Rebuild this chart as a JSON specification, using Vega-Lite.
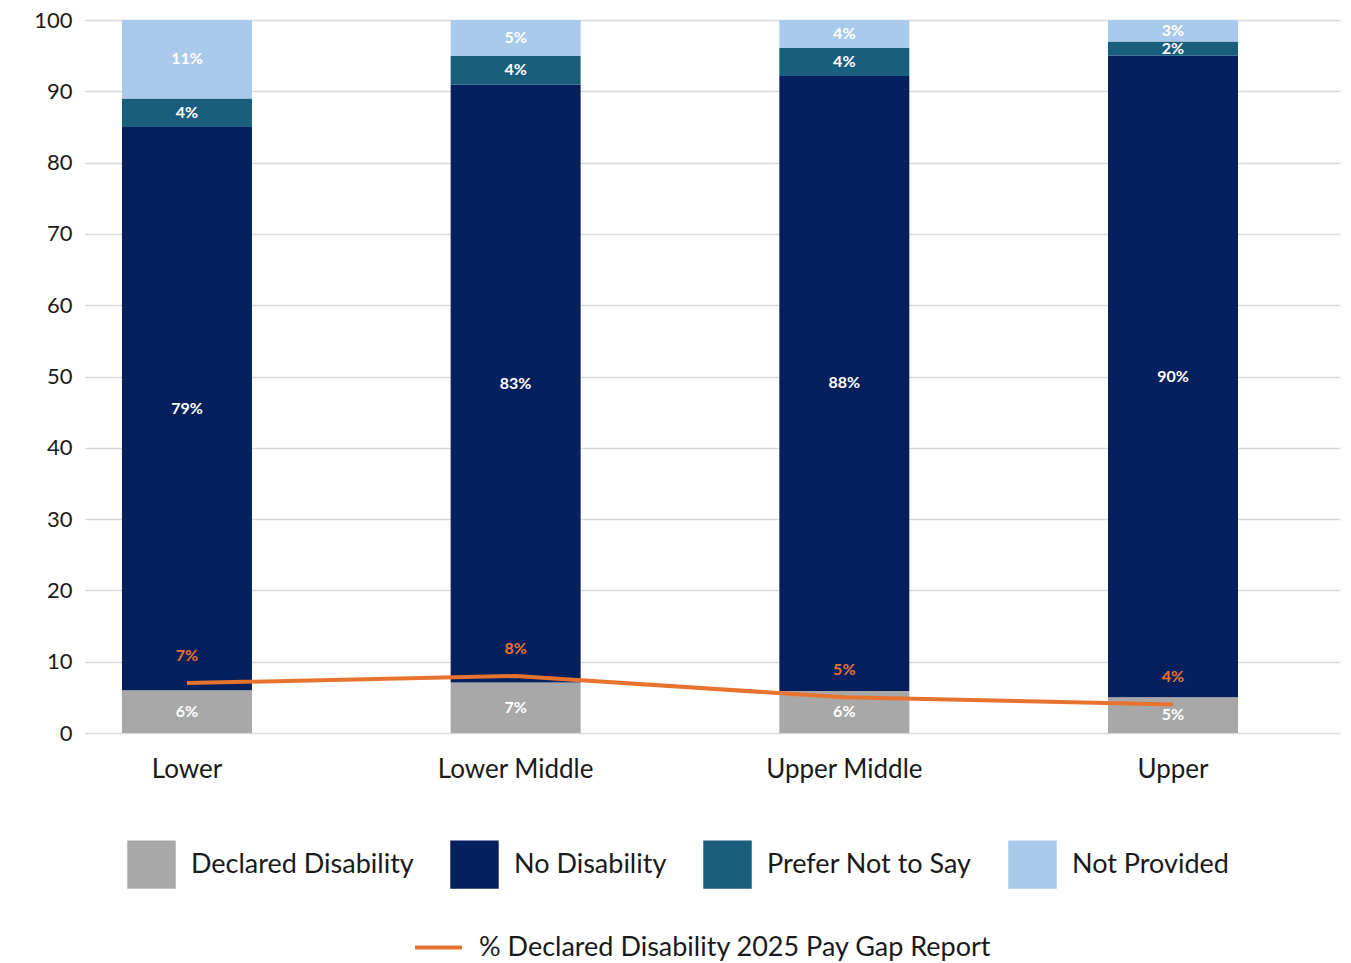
{
  "$schema": "https://vega.github.io/schema/vega-lite/v6.json",
  "width": 1255,
  "height": 713,
  "autosize": {"type": "none"},
  "padding": {"left": 85, "top": 20, "right": 11, "bottom": 230},
  "config": {
    "font": "Lato",
    "view": {"stroke": null},
    "text": {"font": "Lato"}
  },
  "datasets": {
    "bands": [
      {"tier": "Lower", "status": "Declared Disability", "k": 1, "pct": 6},
      {"tier": "Lower", "status": "No Disability", "k": 2, "pct": 79},
      {"tier": "Lower", "status": "Prefer Not to Say", "k": 3, "pct": 4},
      {"tier": "Lower", "status": "Not Provided", "k": 4, "pct": 11},
      {"tier": "Lower Middle", "status": "Declared Disability", "k": 1, "pct": 7},
      {"tier": "Lower Middle", "status": "No Disability", "k": 2, "pct": 83},
      {"tier": "Lower Middle", "status": "Prefer Not to Say", "k": 3, "pct": 4},
      {"tier": "Lower Middle", "status": "Not Provided", "k": 4, "pct": 5},
      {"tier": "Upper Middle", "status": "Declared Disability", "k": 1, "pct": 6},
      {"tier": "Upper Middle", "status": "No Disability", "k": 2, "pct": 88},
      {"tier": "Upper Middle", "status": "Prefer Not to Say", "k": 3, "pct": 4},
      {"tier": "Upper Middle", "status": "Not Provided", "k": 4, "pct": 4},
      {"tier": "Upper", "status": "Declared Disability", "k": 1, "pct": 5},
      {"tier": "Upper", "status": "No Disability", "k": 2, "pct": 90},
      {"tier": "Upper", "status": "Prefer Not to Say", "k": 3, "pct": 2},
      {"tier": "Upper", "status": "Not Provided", "k": 4, "pct": 3}
    ],
    "gap": [
      {"tier": "Lower", "pct": 7},
      {"tier": "Lower Middle", "pct": 8},
      {"tier": "Upper Middle", "pct": 5},
      {"tier": "Upper", "pct": 4}
    ]
  },
  "layer": [
    {
      "data": {"name": "bands"},
      "encoding": {
        "x": {
          "field": "tier",
          "type": "nominal",
          "sort": ["Lower", "Lower Middle", "Upper Middle", "Upper"],
          "scale": {"paddingInner": 0.6045, "paddingOuter": 0.2114, "align": 0.266},
          "axis": {
            "title": null,
            "labelAngle": 0,
            "labelFontSize": 26,
            "labelColor": "#1a1a1a",
            "labelPadding": 23,
            "domain": false,
            "ticks": false,
            "grid": false
          }
        },
        "y": {
          "field": "pct",
          "type": "quantitative",
          "stack": "normalize",
          "axis": null
        },
        "order": {"field": "k", "type": "quantitative"}
      },
      "layer": [
        {
          "mark": {"type": "bar"},
          "encoding": {
            "color": {
              "field": "status",
              "type": "nominal",
              "scale": {
                "domain": ["Declared Disability", "No Disability", "Prefer Not to Say", "Not Provided"],
                "range": ["#A8A8A8", "#06205E", "#1A5E7E", "#A9CAEA"]
              },
              "legend": {
                "orient": "none",
                "legendX": 42,
                "legendY": 820,
                "direction": "horizontal",
                "columns": 4,
                "title": null,
                "symbolType": "square",
                "symbolSize": 2350,
                "symbolStrokeWidth": 0,
                "symbolOpacity": 1,
                "labelFontSize": 27,
                "labelColor": "#1a1a1a",
                "labelOffset": 15,
                "columnPadding": 36,
                "labelLimit": 400
              }
            }
          }
        },
        {
          "mark": {
            "type": "text",
            "color": "white",
            "fontSize": 16,
            "fontWeight": "bold",
            "baseline": "middle",
            "text": {"expr": "datum.pct + '%'"}
          },
          "encoding": {
            "y": {
              "field": "pct",
              "type": "quantitative",
              "stack": "normalize",
              "bandPosition": 0.5,
              "axis": null
            },
            "detail": {"field": "status", "type": "nominal"}
          }
        }
      ]
    },
    {
      "data": {"name": "gap"},
      "encoding": {
        "x": {
          "field": "tier",
          "type": "nominal",
          "sort": ["Lower", "Lower Middle", "Upper Middle", "Upper"]
        },
        "y": {
          "field": "pct",
          "type": "quantitative",
          "scale": {"domain": [0, 100], "nice": false},
          "axis": {
            "orient": "left",
            "title": null,
            "values": [0, 10, 20, 30, 40, 50, 60, 70, 80, 90, 100],
            "labelFontSize": 22,
            "labelColor": "#1a1a1a",
            "labelPadding": 13,
            "domain": false,
            "ticks": false,
            "grid": true,
            "gridColor": "#D9D9D9",
            "gridWidth": 1.3
          }
        }
      },
      "layer": [
        {
          "mark": {"type": "line", "strokeWidth": 4},
          "encoding": {
            "stroke": {
              "datum": "% Declared Disability 2025 Pay Gap Report",
              "scale": {"range": ["#E8732F"]},
              "legend": {
                "orient": "none",
                "legendX": 328,
                "legendY": 902,
                "title": null,
                "symbolType": "stroke",
                "symbolSize": 2200,
                "symbolStrokeWidth": 4,
                "labelFontSize": 27,
                "labelColor": "#1a1a1a",
                "labelOffset": 15,
                "labelLimit": 600
              }
            }
          }
        },
        {
          "mark": {
            "type": "text",
            "color": "#E8732F",
            "fontSize": 16,
            "fontWeight": "bold",
            "dy": -27,
            "text": {"expr": "datum.pct + '%'"}
          }
        }
      ]
    }
  ],
  "resolve": {"scale": {"y": "independent"}}
}
